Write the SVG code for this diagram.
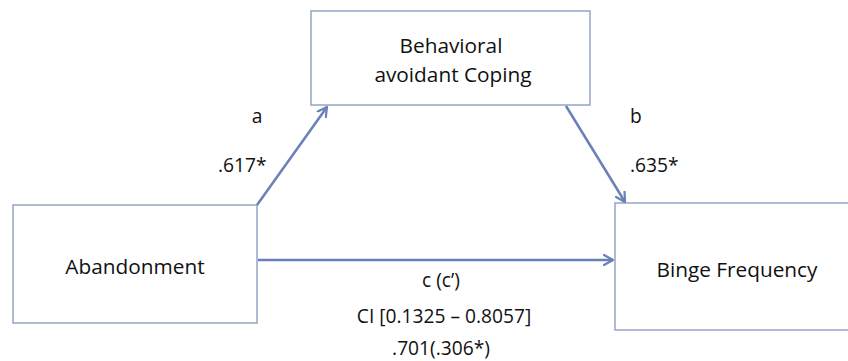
<svg xmlns="http://www.w3.org/2000/svg" width="848" height="361" viewBox="0 0 848 361">
<defs>
<style>
.box{fill:#ffffff;stroke:#95a5c6;stroke-width:1.5}
.t{font-family:"Open Sans","Liberation Sans",sans-serif;font-size:20.8px;fill:#111111}
.lbl{font-family:"Open Sans","Liberation Sans",sans-serif;font-size:19.2px;fill:#111111}
.conn{stroke:#6a80b8;stroke-width:2.5;fill:none}
</style>
<marker id="arr" viewBox="0 0 12 12" refX="10" refY="6" markerWidth="12" markerHeight="12" markerUnits="userSpaceOnUse" orient="auto">
<path d="M1,1 L10,6 L1,11" fill="none" stroke="#6a80b8" stroke-width="2.2" stroke-linecap="round" stroke-linejoin="round"/>
</marker>
</defs>
<rect width="848" height="361" fill="#ffffff"/>
<g id="node-coping">
<rect class="box" x="311" y="11" width="279" height="94"/>
<text class="t" x="451" y="53" text-anchor="middle">Behavioral</text>
<text class="t" x="453" y="82" text-anchor="middle">avoidant Coping</text>
</g>
<g id="node-abandonment">
<rect class="box" x="13" y="205" width="244" height="118"/>
<text class="t" x="135" y="274" text-anchor="middle">Abandonment</text>
</g>
<g id="node-binge">
<rect class="box" x="615" y="203" width="240" height="127"/>
<text class="t" x="737" y="277" text-anchor="middle">Binge Frequency</text>
</g>
<g id="connectors">
<line class="conn" x1="257" y1="205" x2="327" y2="107" marker-end="url(#arr)"/>
<line class="conn" x1="566" y1="106" x2="625" y2="202" marker-end="url(#arr)"/>
<line class="conn" x1="258" y1="260" x2="613" y2="260" marker-end="url(#arr)"/>
</g>
<g id="labels">
<text class="lbl" x="257" y="123" text-anchor="middle">a</text>
<text class="lbl" x="218" y="172">.617*</text>
<text class="lbl" x="630" y="123">b</text>
<text class="lbl" x="630" y="172">.635*</text>
<text class="lbl" x="441" y="287" text-anchor="middle">c (c’)</text>
<text class="lbl" x="444" y="323" text-anchor="middle">CI [0.1325 – 0.8057]</text>
<text class="lbl" x="441" y="355" text-anchor="middle">.701(.306*)</text>
</g>
</svg>
